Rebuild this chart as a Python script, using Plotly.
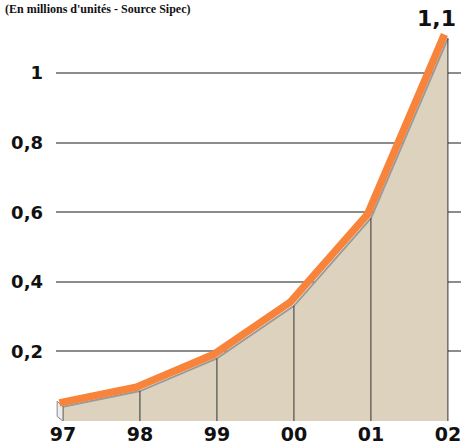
import plotly.graph_objects as go

years = ["97", "98", "99", "00", "01", "02"]
values = [0.041, 0.086, 0.18, 0.331, 0.583, 1.10]
y_ticks = [0.2, 0.4, 0.6, 0.8, 1.0]
y_tick_labels = ["0,2", "0,4", "0,6", "0,8", "1"]
title_text = "(En millions d'unités - Source Sipec)"
last_label = "1,1"

xs = list(range(len(years)))
BOLD = "DejaVu Sans"

fig = go.Figure()

# area
fig.add_trace(go.Scatter(x=xs, y=values, mode="lines", fill="tozeroy",
                         fillcolor="#DDD2BE", line=dict(color="#9a9a9a", width=2),
                         hoverinfo="skip", showlegend=False))

# vertical drop lines
vx, vy = [], []
for x, v in zip(xs, values):
    vx += [x, x, None]
    vy += [0, v, None]
fig.add_trace(go.Scatter(x=vx, y=vy, mode="lines", line=dict(color="#333333", width=1),
                         hoverinfo="skip", showlegend=False))

# small 3D side face at the start
d = 0.075
fig.add_trace(go.Scatter(x=[xs[0], xs[0], xs[0] - d, xs[0] - d, xs[0]],
                         y=[0, values[0], values[0] + 0.016, 0.013, 0],
                         mode="lines", fill="toself", fillcolor="#ECECEC",
                         line=dict(color="#8a8a8a", width=1),
                         hoverinfo="skip", showlegend=False))

# orange line (slightly raised for relief)
fig.add_trace(go.Scatter(x=[x - 0.045 for x in xs], y=[v + 0.011 for v in values],
                         mode="lines", line=dict(color="#F7843A", width=7.5),
                         hoverinfo="skip", showlegend=False))

fig.add_annotation(x=xs[-1], y=values[-1], xref="x", yref="y", text=last_label,
                   showarrow=False, xanchor="right", yanchor="bottom",
                   xshift=10, yshift=5,
                   font=dict(family=BOLD, size=22, color="#111111", weight="bold"))

fig.add_annotation(x=0, y=1, xref="paper", yref="paper", text=title_text,
                   showarrow=False, xanchor="left", yanchor="top",
                   xshift=-53, yshift=21,
                   font=dict(family="Liberation Serif", size=12, color="#111111", weight="bold"))

fig.update_xaxes(range=[-0.09, 5.17], tickvals=xs, ticktext=years, showgrid=False,
                 zeroline=False, showline=False, ticks="", automargin=False,
                 ticklabelstandoff=0, ticklabeloverflow="allow",
                 tickfont=dict(family=BOLD, size=19, color="#111111", weight="bold"))
fig.update_yaxes(range=[0, 1.15], tickvals=y_ticks, ticktext=y_tick_labels,
                 showgrid=True, gridcolor="#8c8c8c", gridwidth=1.5, zeroline=False,
                 showline=False, ticks="", automargin=False, ticklabelstandoff=12,
                 tickfont=dict(family=BOLD, size=18, color="#111111", weight="bold"))

fig.update_layout(width=461, height=444, margin=dict(l=56, r=0, t=21, b=23),
                  plot_bgcolor="white", paper_bgcolor="white")

fig.write_html("out.html", config={"displayModeBar": False},
               post_script="document.body.style.margin='0';document.body.style.overflow='hidden';")
